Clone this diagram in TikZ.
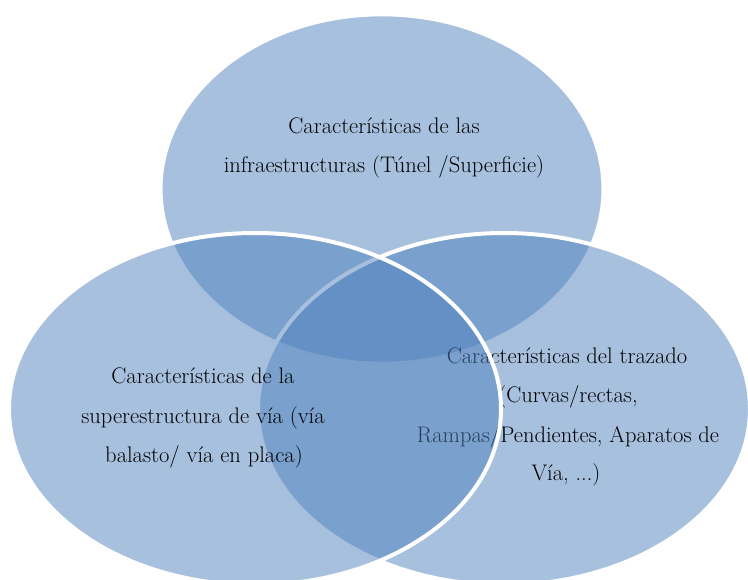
\documentclass[tikz,border=0pt]{standalone}
\usepackage{fontspec}
\definecolor{vennblue}{RGB}{79,129,189}
\tikzset{
  venn/.style={fill=vennblue, fill opacity=0.5, draw=white, draw opacity=1, line width=3pt},
  lbl/.style={anchor=base, inner sep=0pt, text=black, font=\fontsize{16.9pt}{20pt}\selectfont}
}
\begin{document}
\begin{tikzpicture}[x=0.75pt,y=-0.75pt]
\useasboundingbox (0,0) rectangle (748,579);
% top circle
\path[venn] (382,189) ellipse [x radius=166.1pt, y radius=131pt];
\node[lbl] (t1) at (384,133) {Características de las};
\node[lbl] (t2) at (384,172) {infraestructuras (Túnel /Superficie)};
% right circle
\path[venn] (504,409) ellipse [x radius=184.5pt, y radius=132pt];
\node[lbl] (r1) at (567,363) {Características del trazado};
\node[lbl] (r2) at (568,402) {(Curvas/rectas,};
\node[lbl] (r3) at (568,442) {Rampas/Pendientes, Aparatos de};
\node[lbl] (r4) at (566,480) {Vía, ...)};
% left circle
\path[venn] (255,409) ellipse [x radius=184.5pt, y radius=132pt];
\node[lbl] (l1) at (203,383) {Características de la};
\node[lbl] (l2) at (203,423) {superestructura de vía (vía};
\node[lbl] (l3) at (204,462) {balasto/ vía en placa)};
\end{tikzpicture}
\end{document}
